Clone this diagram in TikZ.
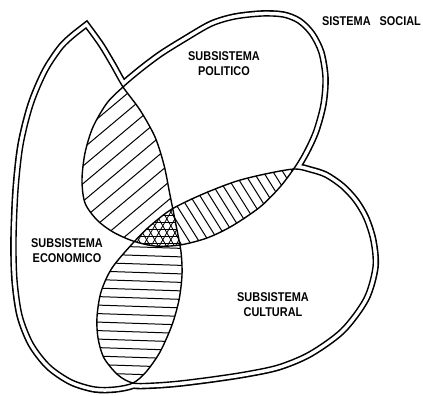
\documentclass[tikz,border=0pt]{standalone}
\usepackage{fontspec}
\newfontfamily\lblfont[FakeStretch=0.86]{Liberation Sans}
% closed outlines of the three subsystems (pixel coordinates, y downwards)
\newcommand\shE{plot[smooth] coordinates {(86,28) (99,46) (111,66) (123,87) (140,110) (155,137) (164,165) (170,195) (176,225) (181,252) (182,275) (179,300) (172,325) (160,352) (146,372) (133,383) (115,387) (95,387) (72,380) (50,365) (33,343) (22,315) (17,280) (16,240) (18,190) (23,145) (33,105) (47,72) (63,48) (77,35)} -- cycle}
\newcommand\shP{plot[smooth cycle] coordinates {(123,87) (107,103) (93,127) (85,153) (82,180) (85,203) (97,220) (113,232) (133,241) (155,246) (180,245) (207,238) (232,226) (260,207) (280,187) (295,167) (305,150) (314,130) (321,104) (323,78) (319,53) (310,35) (298,23) (283,17) (262,16) (235,19) (212,26) (186,41) (162,56) (142,71)}}
\newcommand\shC{plot[smooth cycle] coordinates {(133,383) (118,375) (104,358) (98,338) (97,317) (101,292) (112,268) (133,243) (150,226) (172,209) (203,194) (237,181) (270,173) (295,169) (310,172) (325,177) (341,188) (354,202) (364,219) (371,241) (373,267) (364,298) (341,329) (309,352) (278,365) (245,372) (212,377) (180,381) (155,383)}}
\begin{document}
\begin{tikzpicture}[x=1pt,y=-1pt,
  hatch/.style={line width=1pt},
  finehatch/.style={line width=0.8pt},
  bound/.style={line width=1.4pt, line join=miter, miter limit=20},
  outerband/.style={line width=11.6pt, line join=miter, miter limit=20},
  innergap/.style={white, line width=8.4pt, line join=miter, miter limit=20},
  lbl/.style={font=\lblfont\bfseries\fontsize{12.7}{15}\selectfont, align=center, inner sep=0pt}]
\fill[white] (0,0) rectangle (423,396);
\useasboundingbox (0,0) rectangle (423,396);
% outer double line of the social system (union of the three outlines)
\draw[outerband] \shE;
\draw[outerband] \shP;
\draw[outerband] \shC;
\draw[innergap] \shE;
\draw[innergap] \shP;
\draw[innergap] \shC;
\fill[white] \shE;
\fill[white] \shP;
\fill[white] \shC;
% economic & political : / hatching
\begin{scope}
  \clip \shE; \clip \shP;
  \foreach \c in {140,153.5,...,330}
    \draw[hatch] ({\c*0.643-200*0.766},{\c*0.766+200*0.643}) -- ({\c*0.643+200*0.766},{\c*0.766-200*0.643});
\end{scope}
% political & cultural : \ hatching
\begin{scope}
  \clip \shP; \clip \shC;
  \foreach \c in {16,24.3,...,170}
    \draw[hatch] ({\c*0.848+100*0.530},{-\c*0.530+100*0.848}) -- ({\c*0.848+460*0.530},{-\c*0.530+460*0.848});
\end{scope}
% economic & cultural : horizontal hatching
\begin{scope}
  \clip \shE; \clip \shC;
  \foreach \c in {247,255.5,...,392}
    \draw[hatch] (80,{\c-2}) -- (200,{\c+2});
\end{scope}
% all three : cross hatching
\begin{scope}
  \clip \shE; \clip \shP; \clip \shC;
  \fill[white] (100,190) rectangle (200,260);
  \foreach \c in {201,208,...,260}
    \draw[finehatch] (100,\c) -- (200,\c);
  \foreach \c in {-14,-7,...,56}
    \draw[finehatch] ({\c*0.866+75},{-\c*0.5+130}) -- ({\c*0.866+200},{-\c*0.5+346});
  \foreach \c in {226,233,...,292}
    \draw[finehatch] ({\c*0.866-125},{\c*0.5+216}) -- ({\c*0.866},{\c*0.5});
\end{scope}
% outlines of the subsystems
\draw[bound] \shE;
\draw[bound] \shP;
\draw[bound] \shC;
% labels
\node[lbl] (social) at (371.5,21) {SISTEMA\hspace{9pt}SOCIAL};
\node[lbl] (politico) at (224,63.5) {SUBSISTEMA\\POLITICO};
\node[lbl] (economico) at (67,250.5) {SUBSISTEMA\\ECONOMICO};
\node[lbl] (cultural) at (273,305) {SUBSISTEMA\\CULTURAL};
\end{tikzpicture}
\end{document}
